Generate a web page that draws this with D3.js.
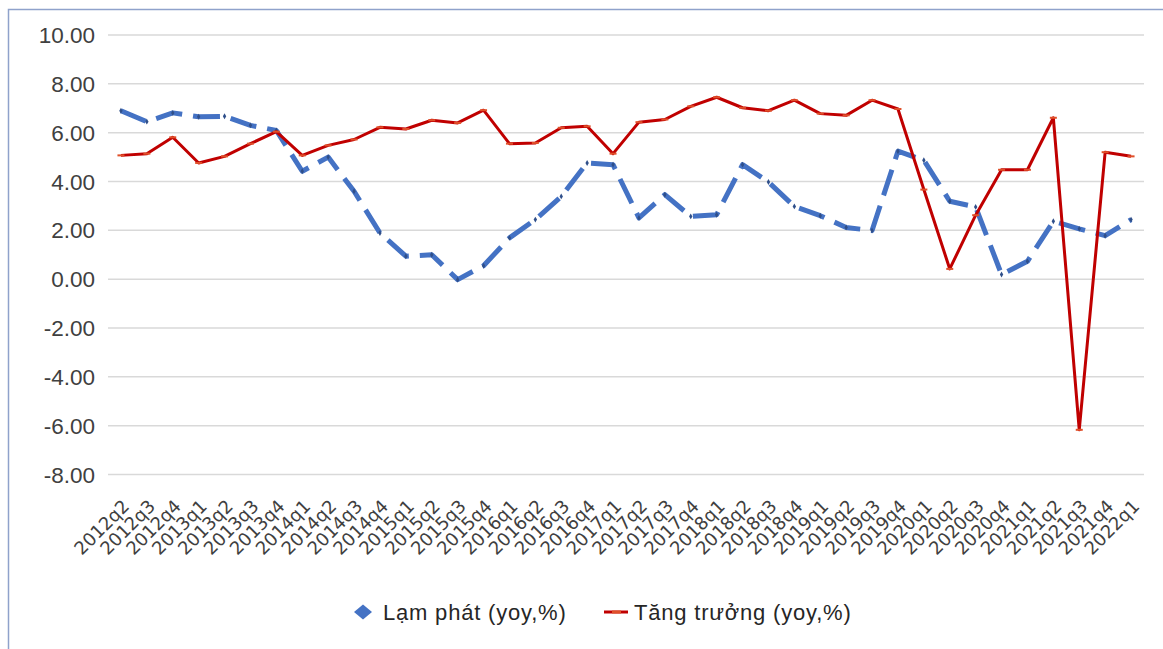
<!DOCTYPE html>
<html>
<head>
<meta charset="utf-8">
<script src="https://cdn.jsdelivr.net/npm/d3@7"></script>
<style>
  html, body { margin: 0; padding: 0; background: #fff; }
  svg { display: block; }
</style>
</head>
<body>
<svg id="chart" width="1163" height="649"></svg>
<script>
const categories = [
  "2012q2","2012q3","2012q4",
  "2013q1","2013q2","2013q3","2013q4",
  "2014q1","2014q2","2014q3","2014q4",
  "2015q1","2015q2","2015q3","2015q4",
  "2016q1","2016q2","2016q3","2016q4",
  "2017q1","2017q2","2017q3","2017q4",
  "2018q1","2018q2","2018q3","2018q4",
  "2019q1","2019q2","2019q3","2019q4",
  "2020q1","2020q2","2020q3","2020q4",
  "2021q1","2021q2","2021q3","2021q4",
  "2022q1"
];
const inflation = [
  6.90, 6.45, 6.81,
  6.65, 6.67, 6.30, 6.09,
  4.42, 5.00, 3.60, 1.89,
  0.94, 1.00, -0.02, 0.55,
  1.69, 2.44, 3.39, 4.76,
  4.69, 2.51, 3.46, 2.57,
  2.64, 4.69, 3.98, 2.98,
  2.60, 2.12, 1.99, 5.24,
  4.87, 3.19, 2.96, 0.19,
  0.73, 2.37, 2.06, 1.78,
  2.44
];
const growth = [
  5.07, 5.14, 5.81,
  4.76, 5.03, 5.55, 6.04,
  5.07, 5.48, 5.72, 6.22,
  6.15, 6.51, 6.40, 6.92,
  5.55, 5.58, 6.20, 6.26,
  5.14, 6.43, 6.54, 7.08,
  7.45, 7.02, 6.90, 7.33,
  6.78, 6.71, 7.33, 6.97,
  3.67, 0.42, 2.62, 4.48,
  4.48, 6.61, -6.17, 5.20,
  5.03
];
const yTicks = [-8, -6, -4, -2, 0, 2, 4, 6, 8, 10];
const seriesNames = ["Lạm phát (yoy,%)", "Tăng trưởng (yoy,%)"];

const svg = d3.select("#chart");
const W = 1163, H = 649;

// outer border (only top/left visible)
svg.append("rect")
  .attr("x", 8.5).attr("y", 9.5)
  .attr("width", W + 20).attr("height", H + 20)
  .attr("fill", "none").attr("stroke", "#8FA2CB").attr("stroke-width", 1.5);

const x = d3.scaleBand().domain(categories).range([108, 1144]);
const y = d3.scaleLinear().domain([-8, 10]).range([474.5, 35]);
const cx = d => x(d) + x.bandwidth() / 2;

// gridlines
svg.append("g").selectAll("line").data(yTicks).join("line")
  .attr("x1", 108).attr("x2", 1144)
  .attr("y1", d => y(d)).attr("y2", d => y(d))
  .attr("stroke", "#D9D9D9").attr("stroke-width", 1.5);

// y labels
svg.append("g").selectAll("text").data(yTicks).join("text")
  .attr("x", 95).attr("y", d => y(d))
  .attr("dy", "0.36em")
  .attr("text-anchor", "end")
  .attr("font-family", "Liberation Sans, Arial, sans-serif")
  .attr("font-size", 22.5)
  .attr("fill", "#404040")
  .text(d => d.toFixed(2));

// x labels
svg.append("g").selectAll("text").data(categories).join("text")
  .attr("transform", d => `translate(${cx(d) + 5},${503}) rotate(-45)`)
  .attr("text-anchor", "end")
  .attr("dy", "0.35em")
  .attr("font-family", "DejaVu Sans, Liberation Sans, sans-serif")
  .attr("font-size", 18)
  .attr("fill", "#404040")
  .text(d => d);

// lines
const idx = d3.range(categories.length);
const lineGen = arr => d3.line()
  .x(i => cx(categories[i]))
  .y(i => y(arr[i]))(idx);

svg.append("path")
  .attr("d", lineGen(inflation))
  .attr("fill", "none")
  .attr("stroke", "#4472C4")
  .attr("stroke-width", 5)
  .attr("stroke-dasharray", "27 11")
  .attr("stroke-linejoin", "round");

svg.append("g").selectAll("path").data(idx).join("path")
  .attr("d", d3.symbol(d3.symbolDiamond, 10))
  .attr("transform", i => `translate(${cx(categories[i])},${y(inflation[i])})`)
  .attr("fill", "#2F4F8A");

svg.append("path")
  .attr("d", lineGen(growth))
  .attr("fill", "none")
  .attr("stroke", "#C00000")
  .attr("stroke-width", 3)
  .attr("stroke-linejoin", "round");

svg.append("g").selectAll("rect").data(idx).join("rect")
  .attr("x", i => cx(categories[i]) - 3.5)
  .attr("y", i => y(growth[i]) - 1)
  .attr("width", 7).attr("height", 2)
  .attr("fill", "#E0502A");

// legend
const lg = svg.append("g")
  .attr("font-family", "Liberation Sans, Arial, sans-serif")
  .attr("font-size", 22)
  .attr("letter-spacing", 0.8)
  .attr("fill", "#262626");

lg.append("path")
  .attr("d", "M-9,0 L0,-7.5 L9,0 L0,7.5 Z")
  .attr("transform", "translate(363,612)")
  .attr("fill", "#4472C4");
lg.append("text").attr("x", 383).attr("y", 612).attr("dy", "0.36em").text(seriesNames[0]);

lg.append("line")
  .attr("x1", 604).attr("x2", 628).attr("y1", 612).attr("y2", 612)
  .attr("stroke", "#C00000").attr("stroke-width", 3);
lg.append("rect").attr("x", 612).attr("y", 610.5).attr("width", 9).attr("height", 3).attr("fill", "#E0502A");
lg.append("text").attr("x", 634).attr("y", 612).attr("dy", "0.36em").text(seriesNames[1]);
</script>
</body>
</html>
